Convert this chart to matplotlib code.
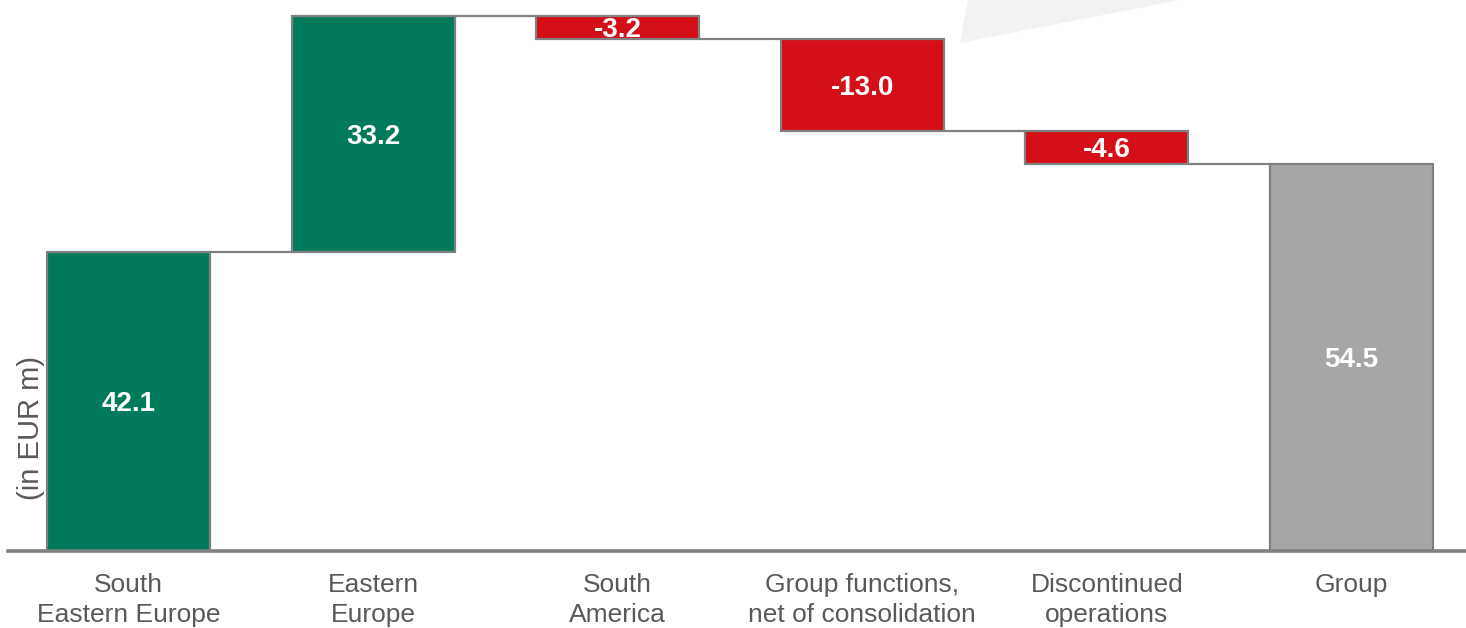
import numpy as np
import matplotlib
matplotlib.use('Agg')
import matplotlib.pyplot as plt
from matplotlib.patches import Polygon

plt.rcParams['font.family'] = ['Liberation Sans', 'DejaVu Sans']

categories = ['South\nEastern Europe', 'Eastern\nEurope', 'South\nAmerica',
              'Group functions,\nnet of consolidation', 'Discontinued\noperations',
              'Group']
changes = [42.1, 33.2, -3.2, -13.0, -4.6]
total = 54.5

GREEN = '#007A5A'
RED = '#D50F17'
GREY_BAR = '#A6A6A6'
EDGE = '#808080'
TEXT = '#595959'


def buildWaterfall(changes, total):
    # bottoms and heights for each floating bar, plus the closing total bar
    bottoms, heights, colors = [], [], []
    running = 0.0
    for value in changes:
        if value >= 0:
            bottoms.append(running)
        else:
            bottoms.append(running + value)
        heights.append(abs(value))
        colors.append(GREEN if value >= 0 else RED)
        running += value
    bottoms.append(0.0)
    heights.append(total)
    colors.append(GREY_BAR)
    return np.array(bottoms), np.array(heights), colors


bottoms, heights, colors = buildWaterfall(changes, total)
labels = ['%.1f' % v for v in changes] + ['%.1f' % total]
x = np.arange(len(categories))
barWidth = 0.666

fig = plt.figure(figsize=(14.66, 6.28), dpi=100)
ax = fig.add_axes([8 / 1466, 77 / 628, 1 - 8 / 1466, 551 / 628])

# light decorative wedge in the top area
fig.patches.append(Polygon([[960 / 1466, 1 - 43 / 628], [968 / 1466, 1.0],
                            [1180 / 1466, 1.0]], closed=True,
                           transform=fig.transFigure, facecolor='#F2F2F2',
                           edgecolor='none', zorder=0))

ax.bar(x, heights, bottom=bottoms, width=barWidth, color=colors,
       edgecolor=EDGE, linewidth=1.6, zorder=3)

# connector lines between consecutive bars
levels = np.cumsum(changes)
for i, level in enumerate(levels):
    ax.plot([x[i] + barWidth / 2, x[i + 1] - barWidth / 2], [level, level],
            color=EDGE, linewidth=1.6, zorder=2, solid_capstyle='butt')

for xi, b, h, text in zip(x, bottoms, heights, labels):
    ax.text(xi, b + h / 2, text, ha='center', va='center_baseline',
            color='white', fontsize=20, fontweight='bold', zorder=4)

ax.set_xlim(-0.493, 5.468)
ax.set_ylim(0, 77.55)
ax.set_xticks(x)
ax.set_xticklabels(categories, fontsize=19, color=TEXT, linespacing=1.3)
ax.tick_params(axis='x', length=0, pad=16)
ax.set_yticks([])
for side in ['top', 'right', 'left']:
    ax.spines[side].set_visible(False)
ax.spines['bottom'].set_color(EDGE)
ax.spines['bottom'].set_linewidth(2.6)
ax.spines['bottom'].set_zorder(5)
ax.patch.set_alpha(0)

fig.text(31 / 1466, 1 - 428 / 628, '(in EUR m)', rotation=90, ha='center',
         va='center', fontsize=21, color=TEXT)

fig.savefig('out.png', dpi=100)
